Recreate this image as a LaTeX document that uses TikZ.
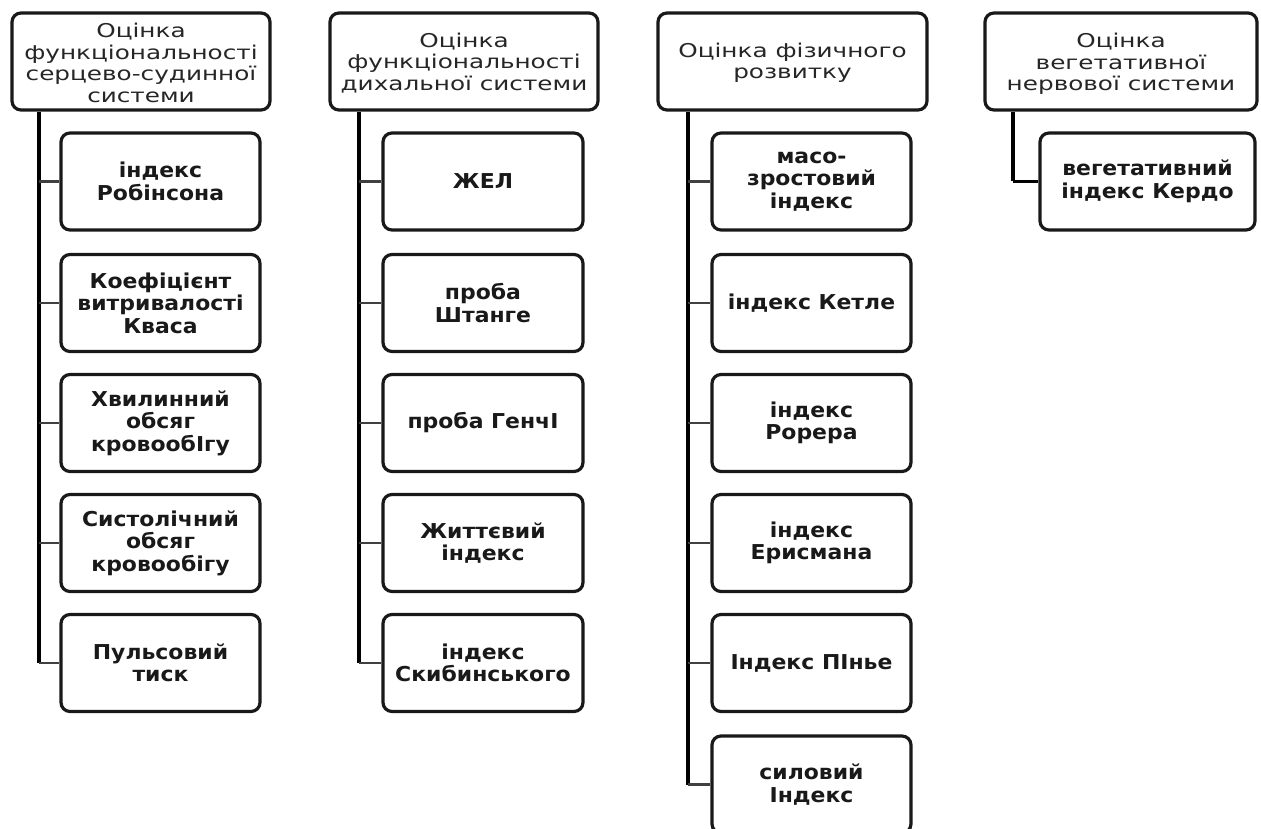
\documentclass[tikz,border=0pt]{standalone}
\usepackage{fontspec}
\setmainfont{DejaVu Sans}
\newfontfamily\hfont[FakeStretch=1.3]{DejaVu Sans}
\newfontfamily\cfont[FakeStretch=1.07]{DejaVu Sans}
\begin{document}
\begin{tikzpicture}[x=1pt,y=-1pt,
  hdr/.style={draw=black!90, line width=3.2pt, rounded corners=9pt, fill=white},
  htext/.style={align=center, inner sep=0pt, text=black!85, font=\hfont\fontsize{19}{21.5}\selectfont},
  child/.style={draw=black!90, line width=3.2pt, rounded corners=9pt, fill=white,
     minimum height=97pt, align=center, inner sep=0pt, text=black!90,
     font=\cfont\bfseries\fontsize{20.5}{22.5}\selectfont},
  trunk/.style={draw=black, line width=3.4pt},
  conn/.style={draw=black!75, line width=2.6pt}]
\useasboundingbox[fill=white] (0,0) rectangle (1261,829);

% trunk x positions
\coordinate (t1) at (39,0);
\coordinate (t2) at (359,0);
\coordinate (t3) at (688,0);
\coordinate (t4) at (1013,0);

% headers
\node[hdr, minimum width=258pt, minimum height=97pt] (h1) at (141,61.5) {};
\node[htext] (h1t) at (141,63) {Оцінка\\функціональності\\серцево-судинної\\системи};
\node[hdr, minimum width=268pt, minimum height=97pt] (h2) at (464,61.5) {};
\node[htext] (h2t) at (464,63) {Оцінка\\функціональності\\дихальної системи};
\node[hdr, minimum width=269pt, minimum height=97pt] (h3) at (792.5,61.5) {};
\node[htext] (h3t) at (792.5,63) {Оцінка фізичного\\розвитку};
\node[hdr, minimum width=272pt, minimum height=97pt] (h4) at (1121,61.5) {};
\node[htext] (h4t) at (1121,64) {Оцінка\\вегетативної\\нервової системи};

% column 1 children
\node[child, minimum width=199pt] (a1) at (160.5,181.5) {індекс\\Робінсона};
\node[child, minimum width=199pt] (a2) at (160.5,303) {Коефіцієнт\\витривалості\\Кваса};
\node[child, minimum width=199pt] (a3) at (160.5,423) {Хвилинний\\обсяг\\кровообІгу};
\node[child, minimum width=199pt] (a4) at (160.5,543) {Систолічний\\обсяг\\кровообігу};
\node[child, minimum width=199pt] (a5) at (160.5,663) {Пульсовий\\тиск};

% column 2 children
\node[child, minimum width=200pt] (b1) at (483,181.5) {ЖЕЛ};
\node[child, minimum width=200pt] (b2) at (483,303) {проба\\Штанге};
\node[child, minimum width=200pt] (b3) at (483,423) {проба ГенчІ};
\node[child, minimum width=200pt] (b4) at (483,543) {Життєвий\\індекс};
\node[child, minimum width=200pt] (b5) at (483,663) {індекс\\Скибинського};

% column 3 children
\node[child, minimum width=199pt] (c1) at (811.5,181.5) {масо-\\зростовий\\індекс};
\node[child, minimum width=199pt] (c2) at (811.5,303) {індекс Кетле};
\node[child, minimum width=199pt] (c3) at (811.5,423) {індекс\\Рорера};
\node[child, minimum width=199pt] (c4) at (811.5,543) {індекс\\Ерисмана};
\node[child, minimum width=199pt] (c5) at (811.5,663) {Індекс ПІнье};
\node[child, minimum width=199pt] (c6) at (811.5,784.5) {силовий\\Індекс};

% column 4 child
\node[child, minimum width=215pt] (d1) at (1147.5,181.5) {вегетативний\\індекс Кердо};

% trunks
\draw[trunk] (h1.south -| t1) -- (a5.west -| t1);
\draw[trunk] (h2.south -| t2) -- (b5.west -| t2);
\draw[trunk] (h3.south -| t3) -- (c6.west -| t3);
\draw[trunk] (h4.south -| t4) -- (d1.west -| t4);

% connectors
\foreach \n in {a1,a2,a3,a4,a5} \draw[conn] (\n.west -| t1) -- (\n.west);
\foreach \n in {b1,b2,b3,b4,b5} \draw[conn] (\n.west -| t2) -- (\n.west);
\foreach \n in {c1,c2,c3,c4,c5,c6} \draw[conn] (\n.west -| t3) -- (\n.west);
\draw[trunk] (d1.west -| t4) -- (d1.west);
\end{tikzpicture}
\end{document}
